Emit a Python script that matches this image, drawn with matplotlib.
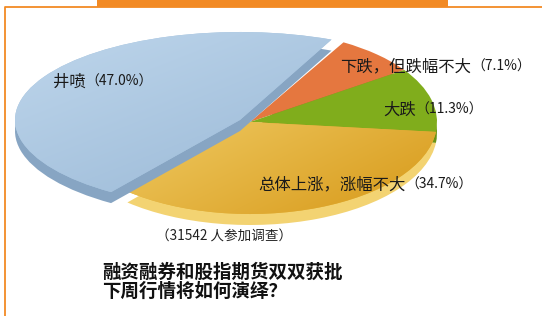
import matplotlib
matplotlib.use("Agg")
import matplotlib.pyplot as plt
import numpy as np
from matplotlib.colors import LinearSegmentedColormap

plt.rcParams['font.family'] = ['Noto Sans CJK SC', 'DejaVu Sans']

# survey data (order: clockwise from the top)
names = ['下跌，但跌幅不大', '大跌', '总体上涨，涨幅不大', '井喷']
shares = [7.1, 11.3, 34.7, 47.0]
top_colors = ['#e5773f', '#80ad1c', '#e6b53a', '#a6c3dd']
side_colors = ['#c8622e', '#6a9314', '#f3d372', '#87a5c3']
# light / dark ends of the shading on the two big slices
shade = {2: ('#f6d877', '#dca328'), 3: ('#b8d1e8', '#98b7d5')}
note = '（31542 人参加调查）'
title_lines = ['融资融券和股指期货双双获批', '下周行情将如何演绎？']

W, H = 542, 316
fig = plt.figure(figsize=(W / 100, H / 100), dpi=100)
fig.patch.set_facecolor('white')

M = 1.35  # axes margin in pie radii
DEPTH = 11  # px of the 3d side

gx, gy = np.meshgrid(np.linspace(-M, M, 200), np.linspace(M, -M, 200))
ramp = np.clip((gx - gy) * 0.35 + 0.5, 0, 1)


def pie_axes(cx, cy, a, b):
    # axes whose unit circle maps to an ellipse centred at pixel (cx, cy)
    ax = fig.add_axes([(cx - a * M) / W, (H - cy - b * M) / H,
                       2 * a * M / W, 2 * b * M / H])
    return ax


def draw_pie(ax, b, keep, start):
    side = [c if i in keep else 'none' for i, c in enumerate(side_colors)]
    top = [c if i in keep else 'none' for i, c in enumerate(top_colors)]
    ax.pie(shares, colors=side, startangle=start, counterclock=False,
           center=(0, -DEPTH / b), wedgeprops=dict(linewidth=0))
    wedges, _ = ax.pie(shares, colors=top, startangle=start,
                       counterclock=False, wedgeprops=dict(linewidth=0))
    for i in keep:
        if i in shade:
            cmap = LinearSegmentedColormap.from_list('s', shade[i])
            im = ax.imshow(ramp, extent=[-M, M, -M, M], cmap=cmap,
                           aspect='auto', zorder=3, interpolation='bilinear')
            im.set_clip_path(wedges[i])
    ax.set_aspect('auto')
    ax.set_xlim(-M, M)
    ax.set_ylim(-M, M)
    ax.axis('off')


# the three slices that stay in place
ax1 = pie_axes(250, 122, 187, 92)
draw_pie(ax1, 92, [0, 1, 2], 60)

# the lifted "井喷" slice
ax2 = pie_axes(240, 120, 225, 88)
draw_pie(ax2, 88, [3], 66)

renderer = fig.canvas.get_renderer()


def label(x, y, name, val):
    t = fig.text(x / W, 1 - y / H, name, fontsize=11.8, color='#1a1a1a',
                 ha='left', va='center', zorder=5)
    bb = t.get_window_extent(renderer)
    fig.text(bb.x1 / W, 1 - y / H, f'（{val:.1f}%）', fontsize=10,
             color='#1a1a1a', ha='left', va='center', zorder=5)


label_pos = [(340, 67), (383, 110), (258, 185), (53, 82)]
for name, val, (x, y) in zip(names, shares, label_pos):
    label(x, y, name, val)

fig.text(156 / W, 1 - 237 / H, note, fontsize=9.8, color='#222222',
         ha='left', va='center')
for i, line in enumerate(title_lines):
    fig.text(102 / W, 1 - (272 + 19 * i) / H, line, fontsize=13.3,
             fontweight='bold', color='#111111', ha='left', va='center')

# frame: orange top bar and border lines
orange = '#f28a24'
fig.add_artist(plt.Rectangle((97 / W, 1 - 7 / H), 351 / W, 7 / H,
                             transform=fig.transFigure, color=orange, lw=0))
fig.add_artist(plt.Line2D([4.5 / W, 4.5 / W, 1], [0, 1 - 7 / H, 1 - 7 / H],
                          transform=fig.transFigure, color=orange, lw=1.3))

fig.savefig('out.png', dpi=100, facecolor='white')
